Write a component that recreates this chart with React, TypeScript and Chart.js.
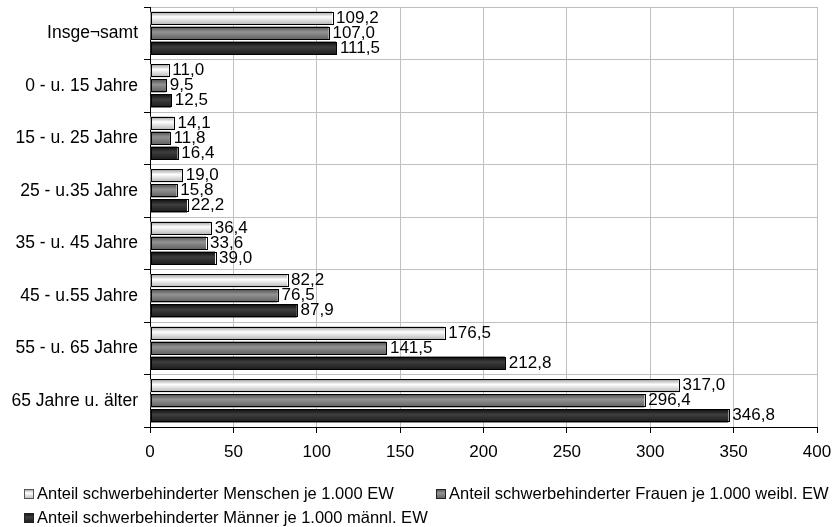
import React, { useEffect, useRef } from "react";
import { Chart, registerables } from "chart.js";

Chart.register(...registerables);

const categories = [
  "Insge¬samt",
  "0 - u. 15 Jahre",
  "15 - u. 25 Jahre",
  "25 - u.35 Jahre",
  "35 - u. 45 Jahre",
  "45 - u.55 Jahre",
  "55 - u. 65 Jahre",
  "65 Jahre u. älter",
];

const menschen = [109.2, 11.0, 14.1, 19.0, 36.4, 82.2, 176.5, 317.0];
const frauen = [107.0, 9.5, 11.8, 15.8, 33.6, 76.5, 141.5, 296.4];
const maenner = [111.5, 12.5, 16.4, 22.2, 39.0, 87.9, 212.8, 346.8];

const seriesLabels = [
  "Anteil schwerbehinderter Menschen je 1.000 EW",
  "Anteil schwerbehinderter Frauen je 1.000 weibl. EW",
  "Anteil schwerbehinderter Männer je 1.000 männl. EW",
];

const FONT = "'Liberation Sans', Arial, sans-serif";

// gradient stops per series: [edgeTop, highlight, edgeBottom]
const gradStops = [
  ["#9a9a9a", "#ffffff", "#b4b4b4"],
  ["#4e4e4e", "#939393", "#5e5e5e"],
  ["#0c0c0c", "#3e3e3e", "#1a1a1a"],
];
const solid = ["#e6e6e6", "#7a7a7a", "#2a2a2a"];

function makeGrad(ctx: CanvasRenderingContext2D, top: number, bottom: number, i: number) {
  const g = ctx.createLinearGradient(0, top, 0, bottom);
  const s = gradStops[i];
  g.addColorStop(0, s[0]);
  g.addColorStop(0.4, s[1]);
  g.addColorStop(1, s[2]);
  return g;
}

const fmt = (v: number) => v.toFixed(1).replace(".", ",");

const barPlugin = {
  id: "gradBars",
  afterDatasetsDraw(chart: any) {
    const ctx: CanvasRenderingContext2D = chart.ctx;
    ctx.save();
    chart.data.datasets.forEach((ds: any, di: number) => {
      const meta = chart.getDatasetMeta(di);
      meta.data.forEach((el: any, i: number) => {
        const p = el.getProps(["x", "y", "base", "height"], true);
        const top = p.y - p.height / 2;
        const bottom = p.y + p.height / 2;
        const left = Math.min(p.base, p.x);
        const w = Math.abs(p.x - p.base);
        ctx.fillStyle = makeGrad(ctx, top, bottom, di);
        ctx.fillRect(left, top, w, p.height);
        ctx.strokeStyle = "#000";
        ctx.lineWidth = 1;
        ctx.strokeRect(Math.round(left) + 0.5, Math.round(top) + 0.5, Math.round(w), Math.round(p.height) - 1);
        // value label
        ctx.fillStyle = "#000";
        ctx.font = `17px ${FONT}`;
        ctx.textAlign = "left";
        ctx.textBaseline = "middle";
        ctx.fillText(fmt(ds.data[i]), p.x + 4, p.y);
      });
    });
    ctx.restore();
  },
};

const legendPlugin = {
  id: "customLegend",
  afterDraw(chart: any) {
    const ctx: CanvasRenderingContext2D = chart.ctx;
    const pos = [
      { x: 24, y: 494 },
      { x: 436, y: 494 },
      { x: 24, y: 518 },
    ];
    ctx.save();
    ctx.font = `16.5px ${FONT}`;
    ctx.textBaseline = "middle";
    ctx.textAlign = "left";
    chart.data.datasets.forEach((ds: any, i: number) => {
      const p = pos[i];
      const s = 10;
      const top = Math.round(p.y - s / 2);
      ctx.fillStyle = makeGrad(ctx, top, top + s, i);
      ctx.fillRect(p.x, top, s, s);
      ctx.strokeStyle = i === 0 ? "#555" : "#222";
      ctx.lineWidth = 1;
      ctx.strokeRect(p.x + 0.5, top + 0.5, s - 1, s - 1);
      ctx.fillStyle = "#000";
      ctx.fillText(ds.label, p.x + 13, p.y);
    });
    ctx.restore();
  },
};

export default function App() {
  const ref = useRef<HTMLCanvasElement | null>(null);
  useEffect(() => {
    if (!ref.current) return;
    const seriesData = [menschen, frauen, maenner];
    const chart = new Chart(ref.current, {
      type: "bar",
      data: {
        labels: categories,
        datasets: seriesData.map((d, i) => ({
          label: seriesLabels[i],
          data: d,
          backgroundColor: solid[i],
          borderWidth: 0,
          categoryPercentage: 0.86,
          barPercentage: 0.87,
        })),
      },
      options: {
        indexAxis: "y",
        responsive: false,
        animation: false,
        devicePixelRatio: 1,
        layout: { padding: { top: 7, right: 17, bottom: 62, left: 0 } },
        plugins: {
          legend: { display: false },
          tooltip: { enabled: false },
        },
        scales: {
          x: {
            min: 0,
            max: 400,
            ticks: {
              stepSize: 50,
              color: "#000",
              font: { family: FONT, size: 17 },
              padding: 9,
            },
            grid: { color: "#c0c0c0", tickColor: "#000", tickLength: 6, lineWidth: 1 },
            border: { color: "#000", width: 1 },
            afterFit: (s: any) => {
              s.height = 38;
              s.paddingLeft = 0;
              s.paddingRight = 0;
            },
          },
          y: {
            ticks: {
              color: "#000",
              font: { family: FONT, size: 17.5 },
              padding: 6,
            },
            grid: { color: "#c0c0c0", tickColor: "#000", tickLength: 6, lineWidth: 1, offset: true },
            border: { color: "#000", width: 1 },
            afterFit: (s: any) => {
              s.width = 150;
              s.paddingTop = 0;
              s.paddingBottom = 0;
            },
          },
        },
      },
      plugins: [barPlugin, legendPlugin],
    } as any);
    return () => chart.destroy();
  }, []);
  return (
    <div style={{ position: "absolute", left: 0, top: 0, width: 834, height: 527, background: "#fff" }}>
      <canvas ref={ref} width={834} height={527} style={{ display: "block" }} />
    </div>
  );
}
